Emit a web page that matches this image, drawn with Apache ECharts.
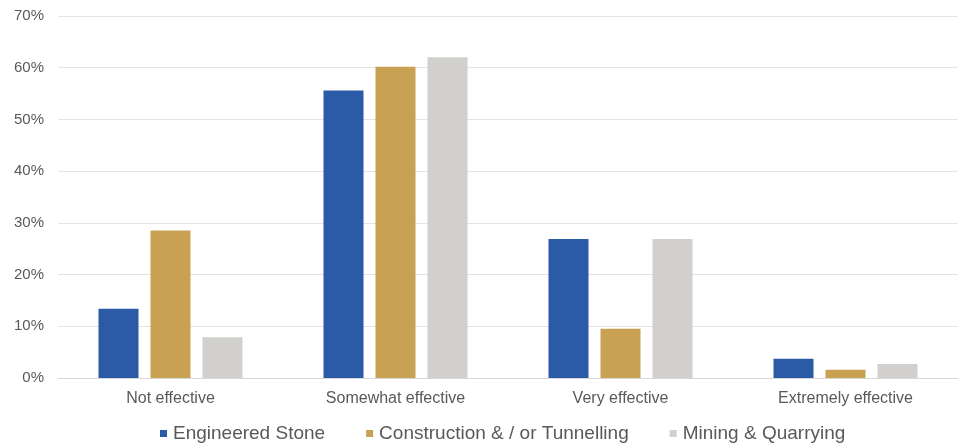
<!DOCTYPE html>
<html>
<head>
<meta charset="utf-8">
<script src="https://cdn.jsdelivr.net/npm/echarts@6/dist/echarts.min.js"></script>
<style>
  html, body { margin: 0; padding: 0; background: #ffffff; }
  #chart { width: 975px; height: 448px; }
</style>
</head>
<body>
<div id="chart"></div>
<script>
// Perceived effectiveness by industry sector (share of respondents, %)
const categories = ['Not effective', 'Somewhat effective', 'Very effective', 'Extremely effective'];
const engineeredStone = [13.4, 55.6, 26.9, 3.7];
const construction = [28.5, 60.2, 9.5, 1.6];
const mining = [7.9, 62.0, 26.9, 2.7];
const seriesNames = ['Engineered Stone', 'Construction & / or Tunnelling', 'Mining & Quarrying'];
const seriesColors = ['#2b5aa6', '#c9a153', '#d1d0ce'];

const FONT = '"Liberation Sans", Arial, Helvetica, sans-serif';
const TEXT = '#595959';

const chart = echarts.init(document.getElementById('chart'), null, { renderer: 'canvas' });

const values = [engineeredStone, construction, mining];

chart.setOption({
  animation: false,
  backgroundColor: '#ffffff',
  grid: { left: 58, right: 17, top: 16, bottom: 70, containLabel: false },
  legend: {
    left: 155,
    top: 419,
    itemWidth: 7,
    itemHeight: 7,
    itemGap: 41,
    icon: 'rect',
    textStyle: { fontFamily: FONT, fontSize: 19, color: TEXT, padding: [0, 0, 0, 1] },
    data: seriesNames
  },
  xAxis: {
    type: 'category',
    data: categories,
    axisLine: { show: true, lineStyle: { color: '#d9d9d9', width: 1 } },
    axisTick: { show: false },
    axisLabel: { fontFamily: FONT, fontSize: 16, color: TEXT, margin: 13 }
  },
  yAxis: {
    type: 'value',
    min: 0,
    max: 70,
    interval: 10,
    axisLine: { show: false },
    axisTick: { show: false },
    splitLine: { lineStyle: { color: '#e3e3e3', width: 1 } },
    axisLabel: { fontFamily: FONT, fontSize: 15, color: TEXT, margin: 14, formatter: '{value}%' }
  },
  series: seriesNames.map((name, i) => ({
    name: name,
    type: 'bar',
    data: values[i],
    barWidth: 40,
    barGap: '30%',
    itemStyle: { color: seriesColors[i] }
  }))
});
</script>
</body>
</html>
